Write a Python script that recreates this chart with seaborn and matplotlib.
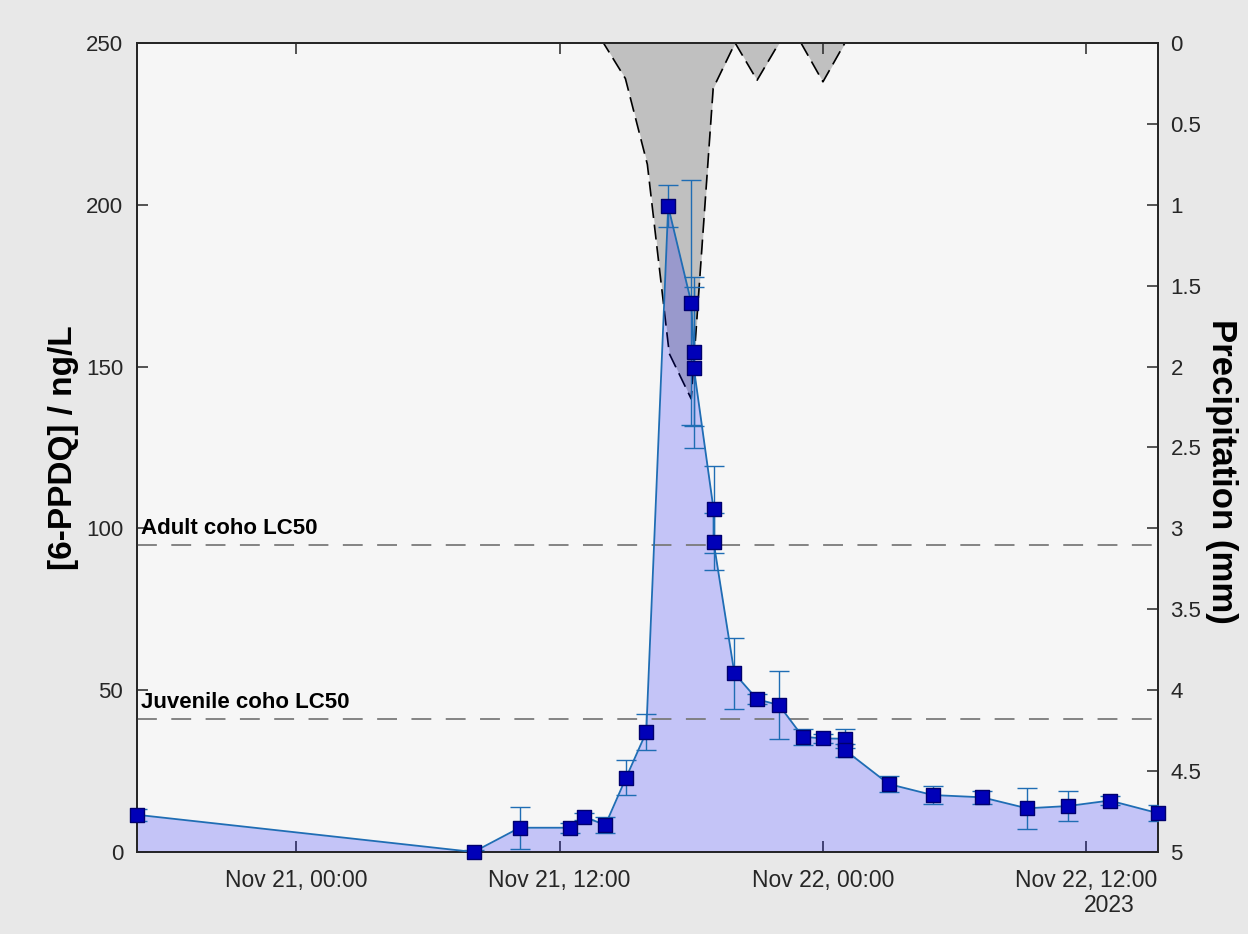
import matplotlib
matplotlib.use("Agg")
import matplotlib.pyplot as plt
import matplotlib.dates as mdates
from matplotlib.ticker import FuncFormatter, MultipleLocator
import numpy as np
import pandas as pd
import seaborn as sns

# 6-PPDQ grab samples (ng/L) with analytical error
sample_times = [
    "2023-11-20 16:45", "2023-11-21 08:05", "2023-11-21 10:11", "2023-11-21 12:29",
    "2023-11-21 13:08", "2023-11-21 14:05", "2023-11-21 15:02", "2023-11-21 15:57",
    "2023-11-21 16:57", "2023-11-21 18:00", "2023-11-21 18:07", "2023-11-21 18:07",
    "2023-11-21 19:01", "2023-11-21 19:01", "2023-11-21 19:58", "2023-11-21 21:00",
    "2023-11-21 22:00", "2023-11-21 23:05", "2023-11-22 00:00", "2023-11-22 01:00",
    "2023-11-22 01:00", "2023-11-22 03:00", "2023-11-22 05:00", "2023-11-22 07:15",
    "2023-11-22 09:18", "2023-11-22 11:10", "2023-11-22 13:04", "2023-11-22 15:16",
]
ppdq = [
    11.5, 0.0, 7.5, 7.5,
    10.9, 8.3, 23.0, 37.0,
    199.5, 169.8, 154.6, 149.7,
    105.9, 95.9, 55.2, 47.2,
    45.4, 35.6, 35.1, 35.0,
    31.5, 21.0, 17.6, 16.9,
    13.5, 14.2, 15.9, 12.0,
]
ppdq_err = [
    1.8, 0.6, 6.5, 1.5,
    1.0, 2.5, 5.5, 5.5,
    6.5, 38.0, 23.0, 25.0,
    13.5, 8.8, 11.0, 1.5,
    10.5, 2.5, 1.5, 3.0,
    2.0, 2.5, 2.8, 2.0,
    6.3, 4.7, 1.5, 2.4,
]

# hourly precipitation (mm) starting Nov 21 00:00
rain_start = "2023-11-21 00:00"
rain_mm = [
    0, 0, 0, 0, 0, 0, 0, 0, 0, 0,
    0, 0, 0, 0, 0, 0.22, 0.75, 1.92, 2.2, 0.28,
    0, 0.23, 0, 0, 0.24, 0, 0, 0, 0, 0,
    0, 0, 0, 0, 0, 0, 0, 0, 0, 0,
    0,
]

thresholds = {"Adult coho LC50": 95, "Juvenile coho LC50": 41}

conc = pd.DataFrame({"time": pd.to_datetime(sample_times), "ppdq": ppdq, "err": ppdq_err})
rain = pd.DataFrame({
    "time": pd.date_range(rain_start, periods=len(rain_mm), freq="h"),
    "mm": rain_mm,
})

sns.set_theme(style="ticks")
plt.rcParams["font.family"] = ["Liberation Sans", "DejaVu Sans"]
ink = "#262626"
line_blue = "#1f6db4"

fig = plt.figure(figsize=(12.48, 9.34), dpi=100, facecolor="#e8e8e8")
ax = fig.add_axes([0.1098, 0.0878, 0.8181, 0.8662])
ax2 = ax.twinx()
# concentration layer sits above the precipitation layer
ax.set_zorder(ax2.get_zorder() + 1)
ax.patch.set_visible(False)
ax2.patch.set_visible(True)
ax2.patch.set_facecolor("#f6f6f6")

# precipitation, hanging from the top on a reversed axis
ax2.fill_between(rain["time"], 0, rain["mm"], color="#c0c0c0", lw=0)
sns.lineplot(data=rain, x="time", y="mm", ax=ax2, color="black", lw=1.2,
             linestyle=(0, (9, 4)), estimator=None, sort=False)
ax2.set_ylim(5, 0)
ax2.yaxis.set_major_locator(MultipleLocator(0.5))
ax2.yaxis.set_major_formatter(FuncFormatter(lambda v, p: f"{v:g}"))

# concentration
ax.fill_between(conc["time"], 0, conc["ppdq"], color="blue", alpha=0.2, lw=0)
for label, val in thresholds.items():
    ax.axhline(val, color="#7a7a7a", lw=1.3, linestyle=(0, (11, 8)), zorder=2)
    ax.text(conc["time"].iloc[0] + pd.Timedelta(minutes=10), val + 1.8, label,
            fontsize=16, fontweight="bold", color="black", ha="left", va="bottom")
sns.lineplot(data=conc, x="time", y="ppdq", ax=ax, color=line_blue, lw=1.3,
             estimator=None, sort=False, zorder=3)
ax.errorbar(conc["time"], conc["ppdq"], yerr=conc["err"], fmt="none",
            ecolor=line_blue, elinewidth=1.0, capsize=7, capthick=1.0, zorder=4)
sns.scatterplot(data=conc, x="time", y="ppdq", ax=ax, marker="s", s=105,
                color="#0000b8", edgecolor="#00006e", linewidth=1.0, zorder=5,
                clip_on=False)

ax.set_xlim(conc["time"].iloc[0], conc["time"].iloc[-1])
ax.set_ylim(0, 250)
ax.yaxis.set_major_locator(MultipleLocator(50))
ax.xaxis.set_major_locator(mdates.HourLocator(byhour=[0, 12]))
ax.xaxis.set_major_formatter(mdates.DateFormatter("%b %d, %H:%M"))

ax.set_xlabel("")
ax.set_ylabel("[6-PPDQ] / ng/L", fontsize=24, fontweight="bold", color="black", labelpad=5)
ax2.set_ylabel("Precipitation (mm)", fontsize=25, fontweight="bold", color="black",
               rotation=270, va="bottom", labelpad=0)
ax2.yaxis.set_label_coords(1.046, 0.471)

ax.tick_params(axis="x", direction="in", length=8, width=1.1, top=True, bottom=True,
               labelsize=16.5, labelcolor=ink, color=ink, pad=12)
ax.tick_params(axis="y", direction="in", length=8, width=1.1, left=True, right=False,
               labelsize=16, labelcolor=ink, color=ink, pad=10)
ax2.tick_params(axis="y", direction="in", length=8, width=1.1, right=True, left=False,
                labelsize=16, labelcolor=ink, color=ink, pad=9)
for a in (ax, ax2):
    for s in a.spines.values():
        s.set_visible(True)
        s.set_color(ink)
        s.set_linewidth(1.3)

fig.text(1135 / 1248, 1 - 905 / 934, "2023", ha="right", va="center", fontsize=16.5, color=ink)

fig.savefig("out.png", dpi=100, facecolor=fig.get_facecolor())
